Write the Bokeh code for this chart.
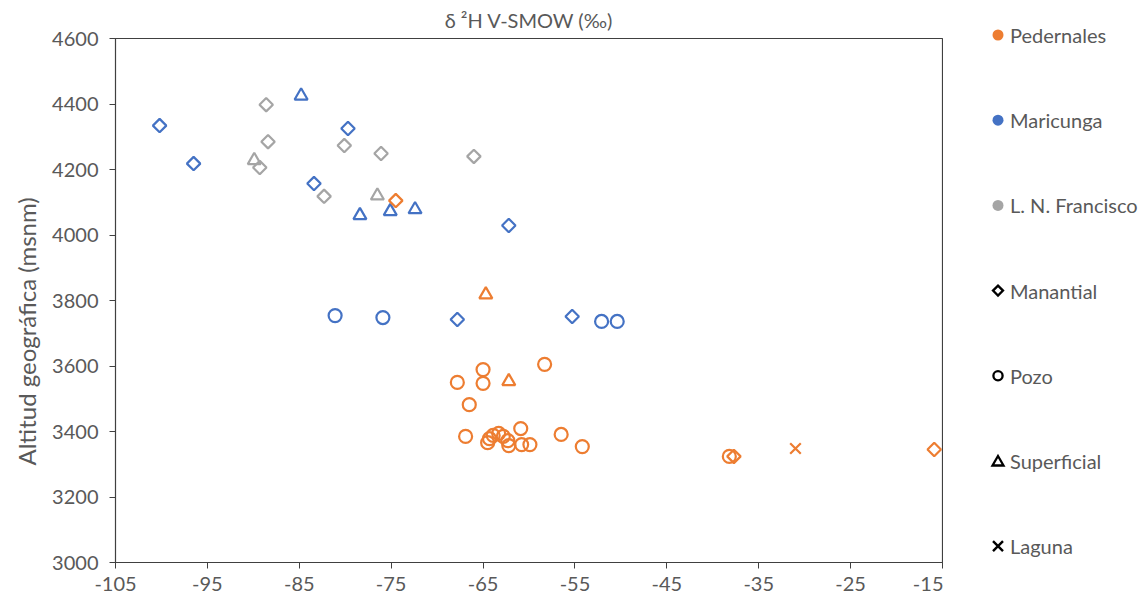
import math
from bokeh.plotting import figure
from bokeh.layouts import row
from bokeh.models import Range1d, FixedTicker, Title, Div
from bokeh.embed import file_html
from bokeh.resources import INLINE

# ---------------- data ----------------
# Pedernales
ped_man_x = [-74.5, -37.7, -15.9]
ped_man_y = [4105, 3324, 3345]
ped_pozo_x = [-58.3, -65.0, -67.8, -65.0, -66.5, -66.9, -60.9, -56.5, -54.2,
              -64.5, -64.3, -63.9, -63.3, -62.8, -62.3, -62.2, -60.8, -59.9, -38.2]
ped_pozo_y = [3605, 3589, 3550, 3547, 3482, 3385, 3409, 3391, 3354,
              3366, 3378, 3388, 3394, 3385, 3372, 3357, 3360, 3360, 3324]
ped_sup_x = [-64.7, -62.2]
ped_sup_y = [3818, 3553]
ped_lag_x = [-31.0]
ped_lag_y = [3348]
# Maricunga
mar_man_x = [-100.2, -96.5, -83.4, -79.7, -62.2, -67.8, -55.3]
mar_man_y = [4334, 4218, 4157, 4325, 4029, 3742, 3751]
mar_pozo_x = [-81.1, -75.9, -52.1, -50.4]
mar_pozo_y = [3754, 3748, 3736, 3736]
mar_sup_x = [-84.8, -78.4, -75.1, -72.4]
mar_sup_y = [4425, 4060, 4072, 4078]
# L. N. Francisco
lnf_man_x = [-88.6, -88.4, -89.3, -80.1, -76.1, -82.3, -66.0]
lnf_man_y = [4398, 4285, 4206, 4273, 4249, 4118, 4240]
lnf_sup_x = [-89.9, -76.5]
lnf_sup_y = [4228, 4120]

x_ticks = [-105, -95, -85, -75, -65, -55, -45, -35, -25, -15]
y_ticks = [3000, 3200, 3400, 3600, 3800, 4000, 4200, 4400, 4600]

region_names = ["Pedernales", "Maricunga", "L. N. Francisco"]
type_names = ["Manantial", "Pozo", "Superficial", "Laguna"]

ORANGE = "#ED7D31"
BLUE = "#4472C4"
GRAY = "#A5A5A5"
TXT = "#595959"
FONT = "Lato"
DIAMOND_ANGLE = math.pi / 4

p = figure(width=943, height=605, x_range=Range1d(-105, -15), y_range=Range1d(3000, 4600),
           output_backend="svg", toolbar_location=None,
           min_border_left=114, min_border_right=1, min_border_top=38, min_border_bottom=43,
           title="δ ²H V-SMOW (‰)")
p.title.align = "center"
p.title.vertical_align = "top"
p.title.text_font = FONT
p.title.text_font_size = "20px"
p.title.text_font_style = "normal"
p.title.text_color = TXT
p.title.standoff = 10

p.grid.visible = False
p.outline_line_color = "#404040"
p.outline_line_width = 1.2

p.xaxis.ticker = FixedTicker(ticks=x_ticks)
p.yaxis.ticker = FixedTicker(ticks=y_ticks)
p.xaxis.major_label_overrides = {t: str(t) for t in x_ticks}
for ax in (p.xaxis, p.yaxis):
    ax.major_label_text_font = FONT
    ax.major_label_text_font_size = "20px"
    ax.major_label_text_color = TXT
    ax.axis_line_color = "#404040"
    ax.major_tick_line_color = "#404040"
    ax.major_tick_out = 6
    ax.major_tick_in = 0
    ax.minor_tick_out = 0
    ax.minor_tick_in = 0
p.xaxis.major_label_standoff = 8
p.yaxis.major_label_standoff = 11

ylab = Title(text="Altitud geográfica (msnm)", align="left", offset=97,
             text_font=FONT, text_font_size="24px", text_font_style="normal",
             text_color=TXT, standoff=18)
p.add_layout(ylab, "left")

def pts(xs, ys, marker, color, size, angle=0.0):
    p.scatter(xs, ys, marker=marker, size=size, angle=angle, line_color=color,
              line_width=2.2, fill_alpha=0)

pts(lnf_man_x, lnf_man_y, "square", GRAY, 9.5, DIAMOND_ANGLE)
pts(lnf_sup_x, lnf_sup_y, "triangle", GRAY, 13)
pts(mar_man_x, mar_man_y, "square", BLUE, 9.5, DIAMOND_ANGLE)
pts(mar_pozo_x, mar_pozo_y, "circle", BLUE, 13)
pts(mar_sup_x, mar_sup_y, "triangle", BLUE, 13)
pts(ped_pozo_x, ped_pozo_y, "circle", ORANGE, 13)
pts(ped_man_x, ped_man_y, "square", ORANGE, 9.5, DIAMOND_ANGLE)
pts(ped_sup_x, ped_sup_y, "triangle", ORANGE, 13)
pts(ped_lag_x, ped_lag_y, "x", ORANGE, 15)

# ---------------- legend panel (inline SVG in a Div) ----------------
labels = region_names + type_names
kinds = ["dot", "dot", "dot", "diamond", "circle", "triangle", "x"]
dot_colors = [ORANGE, BLUE, GRAY, "black", "black", "black", "black"]
LX, TX, TOP, STEP = 55, 67, 35, 85.2

parts = []
for i, (lab, kind, col) in enumerate(zip(labels, kinds, dot_colors)):
    cy = TOP + i * STEP
    if kind == "dot":
        parts.append(f'<circle cx="{LX}" cy="{cy:.1f}" r="5.5" fill="{col}"/>')
    elif kind == "diamond":
        pts_ = f"{LX},{cy-5:.1f} {LX+5},{cy:.1f} {LX},{cy+5:.1f} {LX-5},{cy:.1f}"
        parts.append(f'<polygon points="{pts_}" fill="none" stroke="{col}" stroke-width="2.3"/>')
    elif kind == "circle":
        parts.append(f'<circle cx="{LX}" cy="{cy:.1f}" r="4.6" fill="none" stroke="{col}" stroke-width="2.3"/>')
    elif kind == "triangle":
        pts_ = f"{LX},{cy-5:.1f} {LX+5.5},{cy+4.5:.1f} {LX-5.5},{cy+4.5:.1f}"
        parts.append(f'<polygon points="{pts_}" fill="none" stroke="{col}" stroke-width="2.3" stroke-linejoin="miter"/>')
    else:
        parts.append(f'<path d="M{LX-5},{cy-5:.1f} L{LX+5},{cy+5:.1f} M{LX-5},{cy+5:.1f} L{LX+5},{cy-5:.1f}" '
                     f'stroke="{col}" stroke-width="2.4"/>')
    parts.append(f'<text x="{TX}" y="{cy:.1f}" dominant-baseline="central" '
                 f'style="font-family: \'{FONT}\', sans-serif; font-size: 20px; fill: {TXT};">{lab}</text>')

svg = ('<svg xmlns="http://www.w3.org/2000/svg" width="201" height="605" '
       'style="display:block">' + "".join(parts) + "</svg>")
legend_div = Div(text=svg, width=201, height=605,
                 styles={"margin": "0", "padding": "0", "overflow": "hidden"})

layout = row(p, legend_div)
open("out.html", "w").write(file_html(layout, INLINE))
